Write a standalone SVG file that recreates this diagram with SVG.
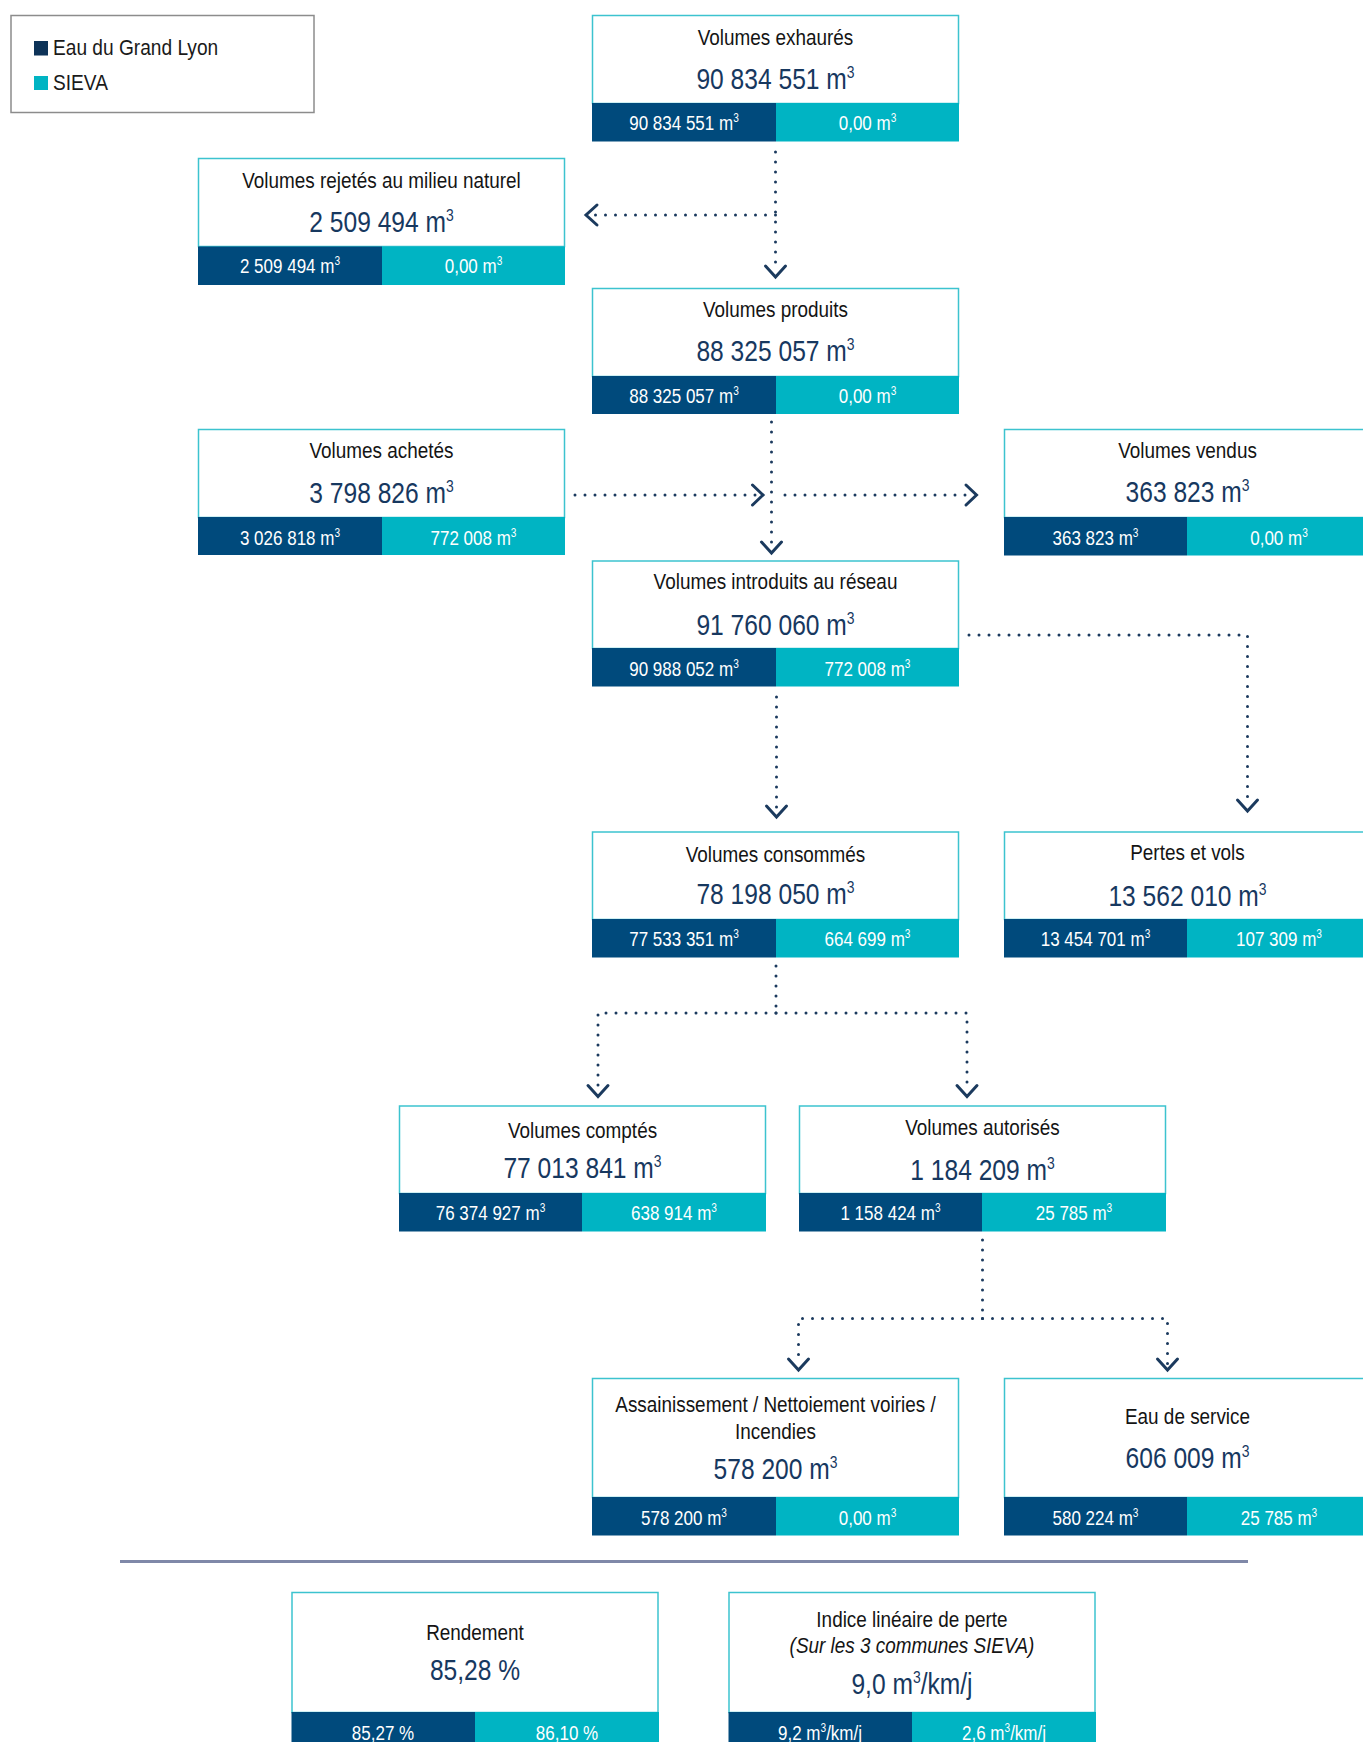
<svg xmlns="http://www.w3.org/2000/svg" width="1363" height="1742" viewBox="0 0 1363 1742">
<style>
.bg{fill:#fff}
.box{fill:#fff;stroke:#3cc3cf;stroke-width:1.5}
.dk{fill:#004a7c}
.tl{fill:#00b4c3}
text{font-family:"Liberation Sans Narrow","Liberation Sans",Arial,sans-serif;text-anchor:middle}
.ti{font-size:22px;fill:#141414}
.it{font-style:italic}
.nu{font-size:30px;fill:#17385f}
.br{font-size:21px;fill:#fff}
.s1{font-size:17px}
.s2{font-size:12.5px}
.lg{font-size:22px;fill:#1a1a1a;text-anchor:start}
.conn{fill:none;stroke:#1b3a5e;stroke-width:3;stroke-linecap:round;stroke-dasharray:0 10}
.head{fill:none;stroke:#1b3a5e;stroke-width:3;stroke-linecap:round;stroke-linejoin:miter}
</style>
<rect class="bg" x="0" y="0" width="1363" height="1742"/>

<g id="legend">
<rect x="11" y="15.5" width="303" height="97" fill="#fff" stroke="#8c8c8c" stroke-width="1.5"/>
<rect x="34" y="41" width="14" height="14.5" fill="#0d3358"/>
<rect x="34" y="76" width="14" height="14" fill="#00b4c3"/>
<text class="lg" x="0" y="55" transform="matrix(0.87 0 0 1 53 0)">Eau du Grand Lyon</text>
<text class="lg" x="0" y="90" transform="matrix(0.87 0 0 1 53 0)">SIEVA</text>
</g>

<g id="connectors">
<path class="conn" d="M775.5 152 V270"/>
<path class="head" d="M765.5 266 L775.5 277 L785.5 266"/>
<path class="conn" d="M775.5 215 H592"/>
<path class="head" d="M597 205 L586 215 L597 225"/>
<path class="conn" d="M771.5 422 V546"/>
<path class="head" d="M761.5 542 L771.5 553 L781.5 542"/>
<path class="conn" d="M575 495 H756"/>
<path class="head" d="M752.5 485 L763 495 L752.5 505"/>
<path class="conn" d="M785 495 H970"/>
<path class="head" d="M966 485 L976.5 495 L966 505"/>
<path class="conn" d="M776.5 697 V810"/>
<path class="head" d="M766.5 806 L776.5 817 L786.5 806"/>
<path class="conn" d="M969 635 H1247.5 V805"/>
<path class="head" d="M1237.5 800 L1247.5 811 L1257.5 800"/>
<path class="conn" d="M776 966 V1013"/>
<path class="conn" d="M776 1013 H598 V1090"/>
<path class="conn" d="M776 1013 H967 V1090"/>
<path class="head" d="M588 1085.5 L598 1096.5 L608 1085.5"/>
<path class="head" d="M957 1085.5 L967 1096.5 L977 1085.5"/>
<path class="conn" d="M982.5 1240 V1318.5"/>
<path class="conn" d="M982.5 1318.5 H798.5 V1364"/>
<path class="conn" d="M982.5 1318.5 H1167.5 V1364"/>
<path class="head" d="M788.5 1359 L798.5 1370 L808.5 1359"/>
<path class="head" d="M1157.5 1359 L1167.5 1370 L1177.5 1359"/>
</g>

<g id="exhaures">
<rect class="box" x="592.5" y="15.5" width="366" height="88"/>
<rect class="dk" x="592" y="103" width="184" height="38.5"/>
<rect class="tl" x="776" y="103" width="183" height="38.5"/>
<text class="ti" x="0" y="45" transform="matrix(0.86 0 0 1 775.5 0)">Volumes exhaurés</text>
<text class="nu" x="0" y="89" transform="matrix(0.82 0 0 1 775.5 0)">90 834 551 m<tspan class="s1" dy="-11">3</tspan></text>
<text class="br" x="0" y="130" transform="matrix(0.81 0 0 1 684 0)">90 834 551 m<tspan class="s2" dy="-8">3</tspan></text>
<text class="br" x="0" y="130" transform="matrix(0.81 0 0 1 867.5 0)">0,00 m<tspan class="s2" dy="-8">3</tspan></text>
</g>

<g id="rejetes">
<rect class="box" x="198.5" y="158.5" width="366" height="88"/>
<rect class="dk" x="198" y="246.5" width="184" height="38.5"/>
<rect class="tl" x="382" y="246.5" width="183" height="38.5"/>
<text class="ti" x="0" y="188" transform="matrix(0.86 0 0 1 381.5 0)">Volumes rejetés au milieu naturel</text>
<text class="nu" x="0" y="232" transform="matrix(0.82 0 0 1 381.5 0)">2 509 494 m<tspan class="s1" dy="-11">3</tspan></text>
<text class="br" x="0" y="273.5" transform="matrix(0.81 0 0 1 290 0)">2 509 494 m<tspan class="s2" dy="-8">3</tspan></text>
<text class="br" x="0" y="273.5" transform="matrix(0.81 0 0 1 473.5 0)">0,00 m<tspan class="s2" dy="-8">3</tspan></text>
</g>

<g id="produits">
<rect class="box" x="592.5" y="288.5" width="366" height="88"/>
<rect class="dk" x="592" y="376" width="184" height="38"/>
<rect class="tl" x="776" y="376" width="183" height="38"/>
<text class="ti" x="0" y="317" transform="matrix(0.86 0 0 1 775.5 0)">Volumes produits</text>
<text class="nu" x="0" y="361.5" transform="matrix(0.82 0 0 1 775.5 0)">88 325 057 m<tspan class="s1" dy="-11">3</tspan></text>
<text class="br" x="0" y="403.5" transform="matrix(0.81 0 0 1 684 0)">88 325 057 m<tspan class="s2" dy="-8">3</tspan></text>
<text class="br" x="0" y="403.5" transform="matrix(0.81 0 0 1 867.5 0)">0,00 m<tspan class="s2" dy="-8">3</tspan></text>
</g>

<g id="achetes">
<rect class="box" x="198.5" y="429.5" width="366" height="88"/>
<rect class="dk" x="198" y="517" width="184" height="38"/>
<rect class="tl" x="382" y="517" width="183" height="38"/>
<text class="ti" x="0" y="458.5" transform="matrix(0.86 0 0 1 381.5 0)">Volumes achetés</text>
<text class="nu" x="0" y="503" transform="matrix(0.82 0 0 1 381.5 0)">3 798 826 m<tspan class="s1" dy="-11">3</tspan></text>
<text class="br" x="0" y="545" transform="matrix(0.81 0 0 1 290 0)">3 026 818 m<tspan class="s2" dy="-8">3</tspan></text>
<text class="br" x="0" y="545" transform="matrix(0.81 0 0 1 473.5 0)">772 008 m<tspan class="s2" dy="-8">3</tspan></text>
</g>

<g id="vendus">
<rect class="box" x="1004.5" y="429.5" width="366" height="88"/>
<rect class="dk" x="1004" y="517" width="183" height="38.5"/>
<rect class="tl" x="1187" y="517" width="184" height="38.5"/>
<text class="ti" x="0" y="458.5" transform="matrix(0.86 0 0 1 1187.5 0)">Volumes vendus</text>
<text class="nu" x="0" y="502" transform="matrix(0.82 0 0 1 1187.5 0)">363 823 m<tspan class="s1" dy="-11">3</tspan></text>
<text class="br" x="0" y="545" transform="matrix(0.81 0 0 1 1095.5 0)">363 823 m<tspan class="s2" dy="-8">3</tspan></text>
<text class="br" x="0" y="545" transform="matrix(0.81 0 0 1 1279 0)">0,00 m<tspan class="s2" dy="-8">3</tspan></text>
</g>

<g id="introduits">
<rect class="box" x="592.5" y="561" width="366" height="87.5"/>
<rect class="dk" x="592" y="648" width="184" height="38.5"/>
<rect class="tl" x="776" y="648" width="183" height="38.5"/>
<text class="ti" x="0" y="589.5" transform="matrix(0.86 0 0 1 775.5 0)">Volumes introduits au réseau</text>
<text class="nu" x="0" y="635" transform="matrix(0.82 0 0 1 775.5 0)">91 760 060 m<tspan class="s1" dy="-11">3</tspan></text>
<text class="br" x="0" y="676.5" transform="matrix(0.81 0 0 1 684 0)">90 988 052 m<tspan class="s2" dy="-8">3</tspan></text>
<text class="br" x="0" y="676.5" transform="matrix(0.81 0 0 1 867.5 0)">772 008 m<tspan class="s2" dy="-8">3</tspan></text>
</g>

<g id="consommes">
<rect class="box" x="592.5" y="832" width="366" height="87.5"/>
<rect class="dk" x="592" y="919" width="184" height="38.5"/>
<rect class="tl" x="776" y="919" width="183" height="38.5"/>
<text class="ti" x="0" y="862" transform="matrix(0.86 0 0 1 775.5 0)">Volumes consommés</text>
<text class="nu" x="0" y="904" transform="matrix(0.82 0 0 1 775.5 0)">78 198 050 m<tspan class="s1" dy="-11">3</tspan></text>
<text class="br" x="0" y="946.5" transform="matrix(0.81 0 0 1 684 0)">77 533 351 m<tspan class="s2" dy="-8">3</tspan></text>
<text class="br" x="0" y="946.5" transform="matrix(0.81 0 0 1 867.5 0)">664 699 m<tspan class="s2" dy="-8">3</tspan></text>
</g>

<g id="pertes">
<rect class="box" x="1004.5" y="832" width="366" height="87.5"/>
<rect class="dk" x="1004" y="919" width="183" height="38.5"/>
<rect class="tl" x="1187" y="919" width="184" height="38.5"/>
<text class="ti" x="0" y="860.5" transform="matrix(0.86 0 0 1 1187.5 0)">Pertes et vols</text>
<text class="nu" x="0" y="906" transform="matrix(0.82 0 0 1 1187.5 0)">13 562 010 m<tspan class="s1" dy="-11">3</tspan></text>
<text class="br" x="0" y="946.5" transform="matrix(0.81 0 0 1 1095.5 0)">13 454 701 m<tspan class="s2" dy="-8">3</tspan></text>
<text class="br" x="0" y="946.5" transform="matrix(0.81 0 0 1 1279 0)">107 309 m<tspan class="s2" dy="-8">3</tspan></text>
</g>

<g id="comptes">
<rect class="box" x="399.5" y="1106" width="366" height="87.5"/>
<rect class="dk" x="399" y="1193" width="183" height="38.5"/>
<rect class="tl" x="582" y="1193" width="184" height="38.5"/>
<text class="ti" x="0" y="1138" transform="matrix(0.86 0 0 1 582.5 0)">Volumes comptés</text>
<text class="nu" x="0" y="1178.5" transform="matrix(0.82 0 0 1 582.5 0)">77 013 841 m<tspan class="s1" dy="-11">3</tspan></text>
<text class="br" x="0" y="1220" transform="matrix(0.81 0 0 1 490.5 0)">76 374 927 m<tspan class="s2" dy="-8">3</tspan></text>
<text class="br" x="0" y="1220" transform="matrix(0.81 0 0 1 674 0)">638 914 m<tspan class="s2" dy="-8">3</tspan></text>
</g>

<g id="autorises">
<rect class="box" x="799.5" y="1106" width="366" height="87.5"/>
<rect class="dk" x="799" y="1193" width="183" height="38.5"/>
<rect class="tl" x="982" y="1193" width="184" height="38.5"/>
<text class="ti" x="0" y="1135" transform="matrix(0.86 0 0 1 982.5 0)">Volumes autorisés</text>
<text class="nu" x="0" y="1180" transform="matrix(0.82 0 0 1 982.5 0)">1 184 209 m<tspan class="s1" dy="-11">3</tspan></text>
<text class="br" x="0" y="1220" transform="matrix(0.81 0 0 1 890.5 0)">1 158 424 m<tspan class="s2" dy="-8">3</tspan></text>
<text class="br" x="0" y="1220" transform="matrix(0.81 0 0 1 1074 0)">25 785 m<tspan class="s2" dy="-8">3</tspan></text>
</g>

<g id="assainissement">
<rect class="box" x="592.5" y="1378.5" width="366" height="119"/>
<rect class="dk" x="592" y="1497" width="184" height="38.5"/>
<rect class="tl" x="776" y="1497" width="183" height="38.5"/>
<text class="ti" x="0" y="1412.5" transform="matrix(0.86 0 0 1 775.5 0)">Assainissement / Nettoiement voiries /</text>
<text class="ti" x="0" y="1439" transform="matrix(0.86 0 0 1 775.5 0)">Incendies</text>
<text class="nu" x="0" y="1479.5" transform="matrix(0.82 0 0 1 775.5 0)">578 200 m<tspan class="s1" dy="-11">3</tspan></text>
<text class="br" x="0" y="1525" transform="matrix(0.81 0 0 1 684 0)">578 200 m<tspan class="s2" dy="-8">3</tspan></text>
<text class="br" x="0" y="1525" transform="matrix(0.81 0 0 1 867.5 0)">0,00 m<tspan class="s2" dy="-8">3</tspan></text>
</g>

<g id="eau-de-service">
<rect class="box" x="1004.5" y="1378.5" width="366" height="119"/>
<rect class="dk" x="1004" y="1497" width="183" height="38.5"/>
<rect class="tl" x="1187" y="1497" width="184" height="38.5"/>
<text class="ti" x="0" y="1424" transform="matrix(0.86 0 0 1 1187.5 0)">Eau de service</text>
<text class="nu" x="0" y="1468.5" transform="matrix(0.82 0 0 1 1187.5 0)">606 009 m<tspan class="s1" dy="-11">3</tspan></text>
<text class="br" x="0" y="1525" transform="matrix(0.81 0 0 1 1095.5 0)">580 224 m<tspan class="s2" dy="-8">3</tspan></text>
<text class="br" x="0" y="1525" transform="matrix(0.81 0 0 1 1279 0)">25 785 m<tspan class="s2" dy="-8">3</tspan></text>
</g>

<line id="separator" x1="120" y1="1561.5" x2="1248" y2="1561.5" stroke="#7f88a8" stroke-width="3"/>

<g id="rendement">
<rect class="box" x="292" y="1592.5" width="366" height="120"/>
<rect class="dk" x="291.5" y="1712" width="183.5" height="32"/>
<rect class="tl" x="475" y="1712" width="184" height="32"/>
<text class="ti" x="0" y="1640" transform="matrix(0.86 0 0 1 475 0)">Rendement</text>
<text class="nu" x="0" y="1680.5" transform="matrix(0.82 0 0 1 475 0)">85,28 %</text>
<text class="br" x="0" y="1740" transform="matrix(0.81 0 0 1 383 0)">85,27 %</text>
<text class="br" x="0" y="1740" transform="matrix(0.81 0 0 1 567 0)">86,10 %</text>
</g>

<g id="indice">
<rect class="box" x="729" y="1592.5" width="366" height="120"/>
<rect class="dk" x="728.5" y="1712" width="183.5" height="32"/>
<rect class="tl" x="912" y="1712" width="184" height="32"/>
<text class="ti" x="0" y="1627.5" transform="matrix(0.86 0 0 1 912 0)">Indice linéaire de perte</text>
<text class="ti it" x="0" y="1653.5" transform="matrix(0.86 0 0 1 912 0)">(Sur les 3 communes SIEVA)</text>
<text class="nu" x="0" y="1694" transform="matrix(0.82 0 0 1 912 0)">9,0 m<tspan class="s1" dy="-11">3</tspan><tspan dy="11">/km/j</tspan></text>
<text class="br" x="0" y="1740" transform="matrix(0.81 0 0 1 820 0)">9,2 m<tspan class="s2" dy="-8">3</tspan><tspan dy="8">/km/j</tspan></text>
<text class="br" x="0" y="1740" transform="matrix(0.81 0 0 1 1004 0)">2,6 m<tspan class="s2" dy="-8">3</tspan><tspan dy="8">/km/j</tspan></text>
</g>
</svg>
